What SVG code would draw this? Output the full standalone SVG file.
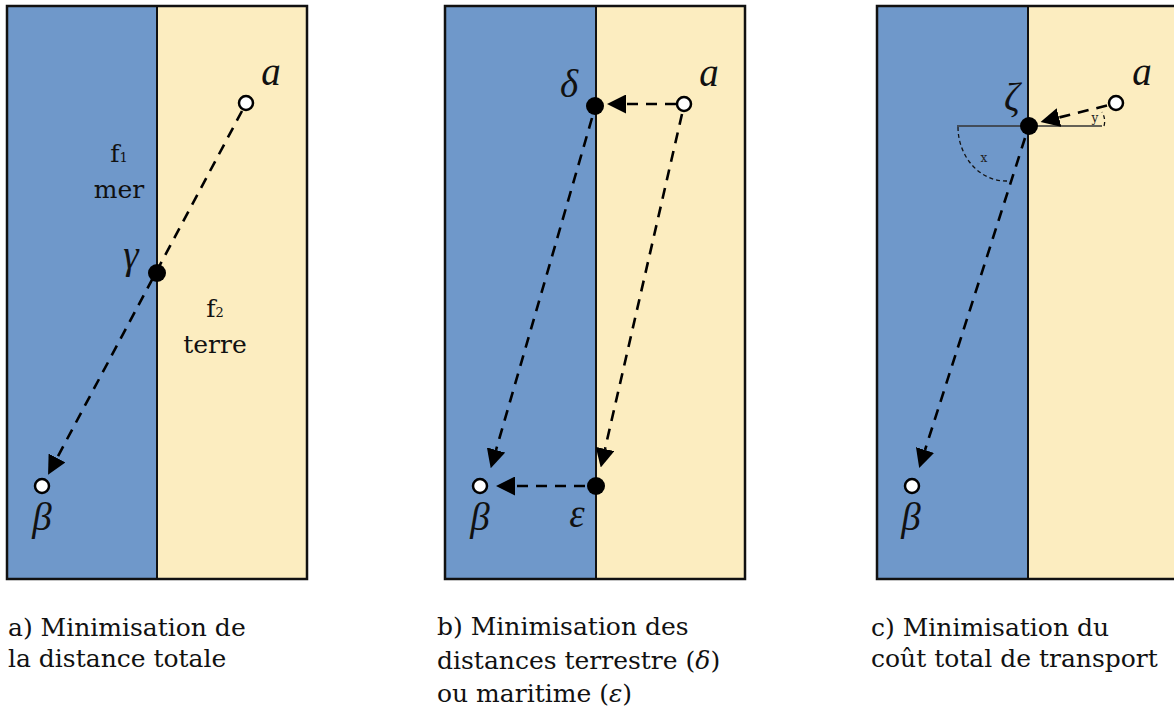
<svg xmlns="http://www.w3.org/2000/svg" width="1174" height="713" viewBox="0 0 1174 713">
<defs>
<style>
.sea{fill:#6f98ca;}
.land{fill:#fcedc0;}
.frame{fill:none;stroke:#111;stroke-width:2.5;}
.div{stroke:#111;stroke-width:2;}
.con{fill:none;stroke:#000;stroke-width:2.6;stroke-dasharray:11 8;}
.thin{fill:none;stroke:#333;stroke-width:1.5;}
.arc{fill:none;stroke:#111;stroke-width:1.3;stroke-dasharray:4 3;}
.open{fill:#fff;stroke:#000;stroke-width:2.5;}
.full{fill:#000;}
.greek{font-family:"Liberation Serif","DejaVu Serif",serif;font-style:italic;font-size:39px;fill:#111;text-anchor:middle;}
.lab{font-family:"DejaVu Serif","Liberation Serif",serif;font-size:25px;fill:#111;}
.cap{font-family:"DejaVu Serif","Liberation Serif",serif;font-size:25px;fill:#111;}
.small{font-family:"DejaVu Serif",serif;font-size:12px;fill:#222;text-anchor:middle;}
</style>
<marker id="ah" markerUnits="userSpaceOnUse" markerWidth="19" markerHeight="19" viewBox="0 0 19 19" refX="0" refY="9.5" orient="auto">
<path d="M0,0 L19,9.5 L0,19 Z" fill="#000"/>
</marker>
</defs>

<g id="panel-a">
<rect class="sea" x="7" y="6" width="150" height="573"/>
<rect class="land" x="157" y="6" width="150" height="573"/>
<line class="div" x1="157" y1="6" x2="157" y2="579"/>
<rect class="frame" x="7" y="6" width="300" height="573"/>
<text class="lab" x="119" y="162" text-anchor="middle">f<tspan font-size="13">1</tspan></text>
<text class="lab" x="119" y="198" text-anchor="middle">mer</text>
<text class="lab" x="215" y="317" text-anchor="middle">f<tspan font-size="13">2</tspan></text>
<text class="lab" x="215" y="353" text-anchor="middle">terre</text>
</g>

<g id="panel-b">
<rect class="sea" x="445" y="6" width="151" height="573"/>
<rect class="land" x="596" y="6" width="149" height="573"/>
<line class="div" x1="596" y1="6" x2="596" y2="579"/>
<rect class="frame" x="445" y="6" width="300" height="573"/>
</g>

<g id="panel-c">
<rect class="sea" x="877" y="6" width="151" height="573"/>
<rect class="land" x="1028" y="6" width="160" height="573"/>
<line class="div" x1="1028" y1="6" x2="1028" y2="579"/>
<rect class="frame" x="877" y="6" width="310" height="573"/>
<line class="thin" x1="957" y1="126" x2="1102" y2="126"/>
<path class="arc" d="M958,127 C958,156 979,181 1006,181 L1010,181"/>
<path class="arc" d="M1104,126 Q1106,119 1102,112"/>
<text class="small" x="984" y="162">x</text>
<text class="small" x="1095" y="122">y</text>
</g>

<g id="connectors">
<line class="con" x1="242" y1="111" x2="57" y2="458" marker-end="url(#ah)"/>
<line class="con" x1="676" y1="104" x2="626" y2="104" marker-end="url(#ah)"/>
<line class="con" x1="592" y1="118" x2="496" y2="450" marker-end="url(#ah)"/>
<line class="con" x1="682" y1="114" x2="605" y2="449" marker-end="url(#ah)"/>
<line class="con" x1="585" y1="486" x2="515" y2="486" marker-end="url(#ah)"/>
<line class="con" x1="1107" y1="105.5" x2="1059" y2="117.5" marker-end="url(#ah)"/>
<line class="con" x1="1025" y1="138" x2="925" y2="450" marker-end="url(#ah)"/>
</g>

<g id="node-a-alpha"><circle class="open" cx="246" cy="103" r="7"/><text class="greek" x="271" y="85">a</text></g>
<g id="node-a-gamma"><circle class="full" cx="157" cy="273" r="9"/><text class="greek" x="131" y="268">γ</text></g>
<g id="node-a-beta"><circle class="open" cx="42" cy="486" r="7"/><text class="greek" x="42" y="530">β</text></g>

<g id="node-b-alpha"><circle class="open" cx="684" cy="104" r="7"/><text class="greek" x="709" y="86">a</text></g>
<g id="node-b-delta"><circle class="full" cx="595" cy="106" r="9"/><text class="greek" x="569" y="97">δ</text></g>
<g id="node-b-epsilon"><circle class="full" cx="596" cy="486" r="9"/><text class="greek" x="577" y="527">ε</text></g>
<g id="node-b-beta"><circle class="open" cx="480" cy="486" r="7"/><text class="greek" x="480" y="530">β</text></g>

<g id="node-c-alpha"><circle class="open" cx="1116" cy="103" r="7"/><text class="greek" x="1142" y="85">a</text></g>
<g id="node-c-zeta"><circle class="full" cx="1029" cy="126" r="9"/><text class="greek" x="1012" y="110">ζ</text></g>
<g id="node-c-beta"><circle class="open" cx="912" cy="486" r="7"/><text class="greek" x="911" y="530">β</text></g>

<g id="captions">
<text class="cap" x="8" y="636">a) Minimisation de</text>
<text class="cap" x="8" y="667">la distance totale</text>
<text class="cap" x="437" y="635">b) Minimisation des</text>
<text class="cap" x="437" y="669">distances terrestre (<tspan font-style="italic">δ</tspan>)</text>
<text class="cap" x="437" y="702">ou maritime (<tspan font-style="italic">ε</tspan>)</text>
<text class="cap" x="871" y="636">c) Minimisation du</text>
<text class="cap" x="871" y="667">coût total de transport</text>
</g>
</svg>
